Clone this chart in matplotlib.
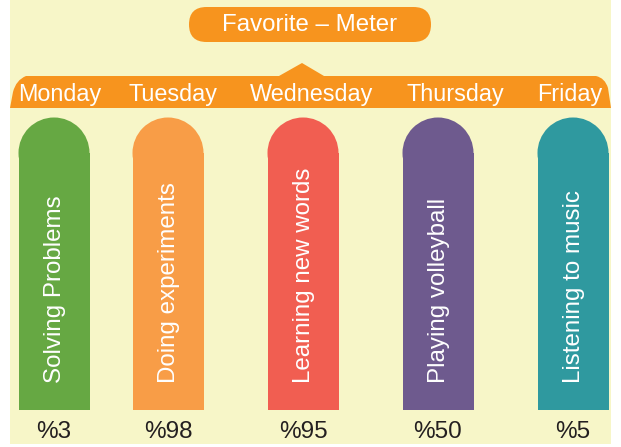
import matplotlib
matplotlib.use("Agg")
import matplotlib.pyplot as plt
from matplotlib.patches import Circle, FancyBboxPatch, PathPatch, Rectangle
from matplotlib.path import Path

plt.rcParams['font.family'] = ['Liberation Sans', 'DejaVu Sans']

# ---- data ----
title = "Favorite – Meter"
days = ["Monday", "Tuesday", "Wednesday", "Thursday", "Friday"]
activities = ["Solving Problems", "Doing experiments", "Learning new words",
              "Playing volleyball", "Listening to music"]
percents = [3, 98, 95, 50, 5]
percent_labels = ["%" + str(p) for p in percents]

# ---- layout / style ----
bar_centers = [54, 168, 303, 438, 573]
day_label_x = [60, 173, 312, 455, 570]
bar_colors = ["#66A843", "#F89D47", "#F15E51", "#6E5A8E", "#2F999F"]
orange = "#F7941E"
cream = "#F7F6C8"
bar_w = 71
cap_y = 153
bar_bottom = 410

fig = plt.figure(figsize=(6.21, 4.47), dpi=100)
ax = fig.add_axes([0, 0, 1, 1])
ax.set_xlim(0, 621)
ax.set_ylim(447, 0)
ax.axis('off')
fig.patch.set_facecolor('white')

# cream background
ax.add_patch(Rectangle((10, 0), 601, 444, facecolor=cream, edgecolor='none', zorder=0))

# title pill
ax.add_patch(FancyBboxPatch((189, 7), 242, 35,
                            boxstyle="round,pad=0,rounding_size=17.5",
                            facecolor=orange, edgecolor='none', zorder=2))
ax.text(310, 25, title, color='white', fontsize=17.3, ha='center', va='center', zorder=3)

# day band with pointer
verts = [(10, 108), (13, 92), (16, 80), (26, 76), (279, 76), (302, 63), (324, 76),
         (596, 76), (605, 78), (608, 88), (611, 108), (10, 108)]
codes = [Path.MOVETO, Path.LINETO, Path.CURVE3, Path.CURVE3, Path.LINETO, Path.LINETO,
         Path.LINETO, Path.LINETO, Path.CURVE3, Path.CURVE3, Path.LINETO, Path.CLOSEPOLY]
ax.add_patch(PathPatch(Path(verts, codes), facecolor=orange, edgecolor='none', zorder=2))
for x, d in zip(day_label_x, days):
    ax.text(x, 95, d, color='white', fontsize=16.8, ha='center', va='center', zorder=3)

# bars
ax.bar(bar_centers, [cap_y - bar_bottom] * len(bar_centers), bottom=bar_bottom,
       width=bar_w, color=bar_colors, zorder=2)
for x, c in zip(bar_centers, bar_colors):
    ax.add_patch(Circle((x, cap_y), bar_w / 2, facecolor=c, edgecolor='none', zorder=2))

for x, a in zip(bar_centers, activities):
    ax.text(x + 1, 383, a, color='white', fontsize=17.4, rotation=90,
            ha='center', va='bottom', zorder=3)

for x, lab in zip(bar_centers, percent_labels):
    ax.text(x, 432, lab, color='#231F20', fontsize=17.5, ha='center', va='center', zorder=3)

fig.savefig("out.png", dpi=100, facecolor='white')
